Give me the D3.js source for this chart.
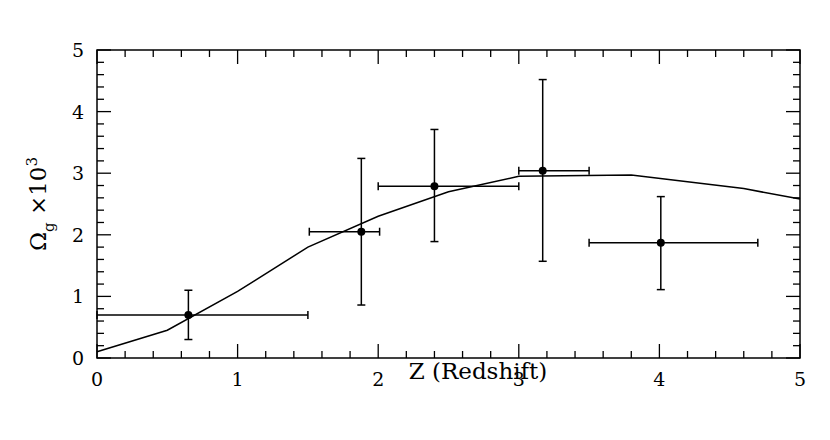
<!DOCTYPE html>
<html><head><meta charset="utf-8">
<script src="https://cdn.jsdelivr.net/npm/d3@7"></script>
<style>body{margin:0;background:#fff}text{font-family:"DejaVu Serif",serif}</style>
</head><body>
<svg width="830" height="440"></svg>
<script>
// model curve
var lineZ = [0, 0.5, 1, 1.5, 2, 2.5, 3, 3.8, 4.6, 5]
var lineOmega = [0.1, 0.45, 1.08, 1.8, 2.3, 2.7, 2.95, 2.97, 2.75, 2.58]

// measurements with error bars
var ptZ = [0.65, 1.88, 2.4, 3.17, 4.01]
var ptOmega = [0.70, 2.05, 2.79, 3.04, 1.87]
var zLo = [0, 1.51, 2.0, 3.0, 3.5]
var zHi = [1.5, 2.01, 3.0, 3.5, 4.7]
var omLo = [0.30, 0.86, 1.89, 1.57, 1.11]
var omHi = [1.10, 3.24, 3.71, 4.52, 2.62]

var xTicks = [0, 1, 2, 3, 4, 5]
var yTicks = [0, 1, 2, 3, 4, 5]

var svg = d3.select("svg")
var x = d3.scaleLinear().domain([0, 5]).range([97, 800])
var y = d3.scaleLinear().domain([0, 5]).range([358, 50])

var minor = d3.range(0, 5.001, 0.2)

// frame
svg.append("rect").attr("x", 97).attr("y", 50).attr("width", 703).attr("height", 308)
  .attr("fill", "none").attr("stroke", "#000").attr("stroke-width", 1.5)

// ticks on all four sides, pointing inward
minor.forEach(function(v) {
  var major = Math.abs(v - Math.round(v)) < 1e-6
  var len = major ? 14 : 7
  svg.append("line").attr("x1", x(v)).attr("x2", x(v)).attr("y1", 358).attr("y2", 358 - len).attr("stroke", "#000").attr("stroke-width", 1.3)
  svg.append("line").attr("x1", x(v)).attr("x2", x(v)).attr("y1", 50).attr("y2", 50 + len).attr("stroke", "#000").attr("stroke-width", 1.3)
  svg.append("line").attr("y1", y(v)).attr("y2", y(v)).attr("x1", 97).attr("x2", 97 + len).attr("stroke", "#000").attr("stroke-width", 1.3)
  svg.append("line").attr("y1", y(v)).attr("y2", y(v)).attr("x1", 800).attr("x2", 800 - len).attr("stroke", "#000").attr("stroke-width", 1.3)
})

svg.selectAll(".xl").data(xTicks).enter().append("text")
  .attr("x", function(d) {return x(d);}).attr("y", 386)
  .attr("text-anchor", "middle").attr("font-size", 19).text(function(d) {return d;})
svg.selectAll(".yl").data(yTicks).enter().append("text")
  .attr("x", 84).attr("y", function(d) {return y(d) + 7;})
  .attr("text-anchor", "end").attr("font-size", 19).text(function(d) {return d;})

// axis titles
svg.append("text").attr("x", 478).attr("y", 379).attr("text-anchor", "middle")
  .attr("font-size", 23).text("Z (Redshift)")
var yt = svg.append("text").attr("transform", "translate(46,204) rotate(-90)")
  .attr("text-anchor", "middle").attr("font-size", 23)
yt.append("tspan").text("\u03A9")
yt.append("tspan").attr("font-size", 15).attr("dy", 8).text("g")
yt.append("tspan").attr("dy", -8).text(" \u00D710")
yt.append("tspan").attr("font-size", 15).attr("dy", -9).text("3")

// model line
svg.append("path").datum(d3.range(lineZ.length))
  .attr("d", d3.line().x(function(i) {return x(lineZ[i]);}).y(function(i) {return y(lineOmega[i]);}))
  .attr("fill", "none").attr("stroke", "#000").attr("stroke-width", 1.5)

// error bars and points
var g = svg.append("g").attr("stroke", "#000").attr("stroke-width", 1.5)
ptZ.forEach(function(z, i) {
  g.append("line").attr("x1", x(zLo[i])).attr("x2", x(zHi[i])).attr("y1", y(ptOmega[i])).attr("y2", y(ptOmega[i]))
  g.append("line").attr("x1", x(z)).attr("x2", x(z)).attr("y1", y(omLo[i])).attr("y2", y(omHi[i]))
  ;[zLo[i], zHi[i]].forEach(function(v) {
    g.append("line").attr("x1", x(v)).attr("x2", x(v)).attr("y1", y(ptOmega[i]) - 4).attr("y2", y(ptOmega[i]) + 4)
  })
  ;[omLo[i], omHi[i]].forEach(function(v) {
    g.append("line").attr("x1", x(z) - 4).attr("x2", x(z) + 4).attr("y1", y(v)).attr("y2", y(v))
  })
  svg.append("circle").attr("cx", x(z)).attr("cy", y(ptOmega[i])).attr("r", 4).attr("fill", "#000")
})
</script>
</body></html>
